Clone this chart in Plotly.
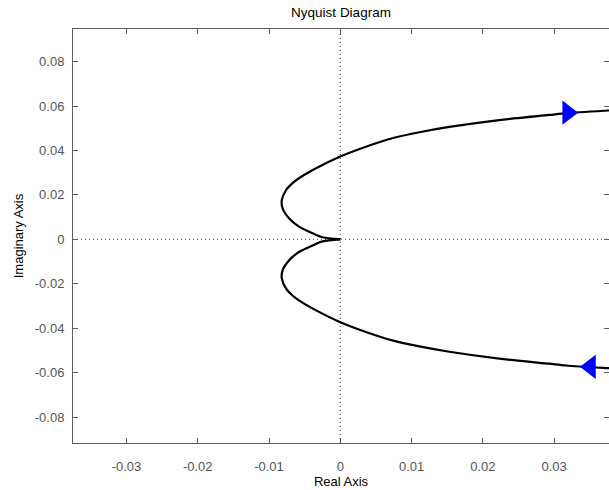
import plotly.graph_objects as go

# Upper branch (negative frequencies): from origin outwards
re_upper = [0.0, -0.0025, -0.0039, -0.0058, -0.0072, -0.0081, -0.0082, -0.0076,
            -0.0067, -0.0058, -0.0034, 0.0, 0.0036, 0.0073, 0.0111, 0.0153,
            0.0223, 0.0293, 0.0317, 0.0376, 0.0450]
im_upper = [0.0, 0.00095, 0.00275, 0.0057, 0.0095, 0.0140, 0.0177, 0.0222,
            0.0253, 0.0275, 0.0320, 0.0373, 0.0417, 0.0455, 0.0482, 0.0506,
            0.0537, 0.0560, 0.0568, 0.0580, 0.0593]
# Lower branch (positive frequencies)
re_lower = [0.0, -0.0025, -0.0039, -0.0058, -0.0072, -0.0081, -0.0082, -0.0076,
            -0.0067, -0.0058, -0.0034, 0.0, 0.0036, 0.0073, 0.0111, 0.0153,
            0.0223, 0.0293, 0.0317, 0.0376, 0.0450]
im_lower = [0.0, -0.00095, -0.00275, -0.0057, -0.0095, -0.0140, -0.0177, -0.0222,
            -0.0253, -0.0275, -0.0320, -0.0373, -0.0417, -0.0455, -0.0482, -0.0506,
            -0.0537, -0.0560, -0.0568, -0.0580, -0.0593]

# Direction arrows
arrow_re = [0.0319, 0.0351]
arrow_im = [0.0570, -0.0574]
arrow_symbols = ["triangle-right", "triangle-left"]

x_ticks = [-0.03, -0.02, -0.01, 0, 0.01, 0.02, 0.03]
x_ticktext = ["-0.03", "-0.02", "-0.01", "0", "0.01", "0.02", "0.03"]
y_ticks = [0.08, 0.06, 0.04, 0.02, 0, -0.02, -0.04, -0.06, -0.08]
y_ticktext = ["0.08", "0.06", "0.04", "0.02", "0", "-0.02", "-0.04", "-0.06", "-0.08"]

x_range = [-0.0375, 0.0377]
y_range = [-0.0917, 0.0947]

FONT = "Liberation Sans, Arial, sans-serif"

fig = go.Figure()
fig.add_trace(go.Scatter(x=re_upper, y=im_upper, mode="lines",
                         line=dict(color="black", width=2.2, shape="spline", smoothing=0.8),
                         hoverinfo="skip"))
fig.add_trace(go.Scatter(x=re_lower, y=im_lower, mode="lines",
                         line=dict(color="black", width=2.2, shape="spline", smoothing=0.8),
                         hoverinfo="skip"))
fig.add_trace(go.Scatter(x=arrow_re, y=arrow_im, mode="markers",
                         marker=dict(symbol=arrow_symbols, size=21, color="#0000ff",
                                     line=dict(width=0)),
                         cliponaxis=True, hoverinfo="skip"))

# dotted reference axes through the origin
fig.add_shape(type="line", xref="x", yref="paper", x0=0, x1=0, y0=0, y1=1,
              line=dict(color="#404040", width=1, dash="1px,3px"), layer="below")
fig.add_shape(type="line", xref="paper", yref="y", x0=0, x1=1, y0=0, y1=0,
              line=dict(color="#404040", width=1, dash="1px,3px"), layer="below")

axis_common = dict(showgrid=False, zeroline=False, showline=True, mirror="ticks",
                   linecolor="#5e5e5e", linewidth=1, ticks="inside", ticklen=5,
                   tickcolor="#5e5e5e", tickwidth=1,
                   tickfont=dict(family=FONT, size=13, color="#555555"))

fig.update_layout(
    width=609, height=490,
    margin=dict(l=73, r=0, t=29, b=47),
    paper_bgcolor="white", plot_bgcolor="white",
    showlegend=False,
    title=dict(text="Nyquist Diagram", x=0.5, xref="paper", y=1, yref="container",
               yanchor="top", pad=dict(t=8),
               font=dict(family=FONT, size=13.5, color="black")),
    xaxis=dict(range=x_range, tickmode="array", tickvals=x_ticks, ticktext=x_ticktext,
               title=dict(text="Real Axis", standoff=0,
                          font=dict(family=FONT, size=13, color="black")),
               ticklabelstandoff=11, **axis_common),
    yaxis=dict(range=y_range, tickmode="array", tickvals=y_ticks, ticktext=y_ticktext,
               title=dict(text="Imaginary Axis", standoff=8,
                          font=dict(family=FONT, size=13, color="black")),
               ticklabelstandoff=5, **axis_common),
)

fig.write_html("out.html")
